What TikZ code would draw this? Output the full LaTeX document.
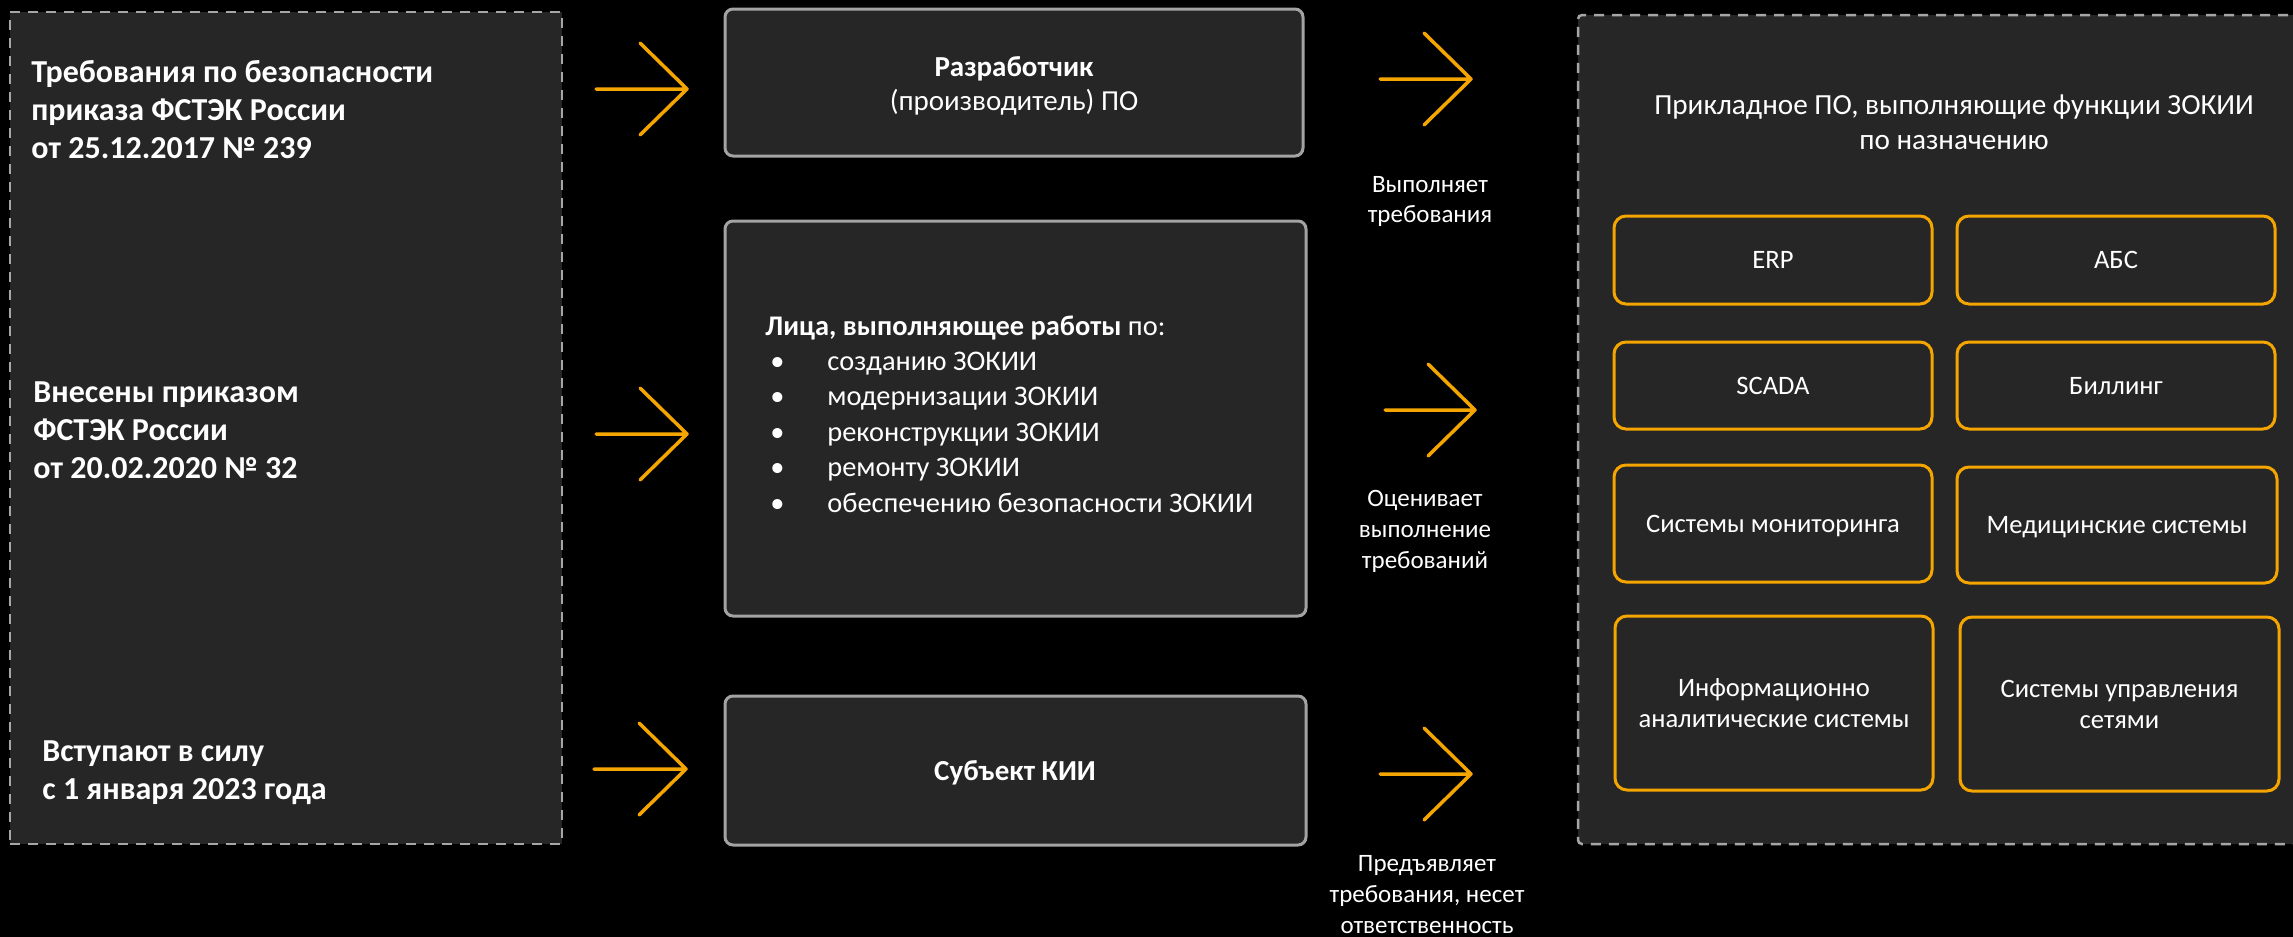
\documentclass[tikz,border=0pt]{standalone}
\usepackage{fontspec}
\setmainfont{Carlito}
\definecolor{panelfill}{HTML}{262626}
\definecolor{dashgray}{HTML}{A6A6A6}
\definecolor{cardgray}{HTML}{A3A3A3}
\definecolor{amber}{HTML}{F5A500}
\begin{document}
\begin{tikzpicture}[x=0.5pt,y=-0.5pt,
  panel/.style={draw=dashgray, line width=1.25pt, dash pattern=on 5pt off 4pt, fill=panelfill, inner sep=0pt},
  card/.style={draw=cardgray, line width=1.5pt, rounded corners=4pt, fill=panelfill, inner sep=0pt, minimum width=290.5pt},
  tile/.style={draw=amber, line width=1.5pt, rounded corners=6pt, fill=panelfill, inner sep=0pt,
    minimum width=159pt, text=white, align=center, text depth=0pt,
    font=\fontsize{13.3}{15.5}\selectfont},
  chev/.style={draw=amber, line width=1.75pt, line cap=round, line join=round},
  lawtxt/.style={text=white, inner sep=0pt, anchor=base west, font=\bfseries\fontsize{16}{19}\selectfont},
  cardtxt/.style={text=white, inner sep=0pt, anchor=base, font=\fontsize{14.5}{17}\selectfont},
  listtxt/.style={text=white, inner sep=0pt, anchor=base west, font=\fontsize{14.2}{17}\selectfont},
  titletxt/.style={text=white, inner sep=0pt, anchor=base, font=\fontsize{14.6}{17}\selectfont},
  notetxt/.style={text=white, inner sep=0pt, anchor=base, font=\fontsize{12.5}{15}\selectfont}]

\useasboundingbox (0,0) rectangle (2293,937);
\clip (0,0) rectangle (2293,937);
\fill[black] (0,0) rectangle (2293,937);

% left column: the legal basis
\node[panel, minimum width=276pt, minimum height=416pt] (lawpanel) at (286,428) {};
\node[lawtxt] (law1a) at (31,82)  {Требования по безопасности};
\node[lawtxt] (law1b) at (31,120) {приказа ФСТЭК России};
\node[lawtxt] (law1c) at (31,158) {от 25.12.2017 № 239};
\node[lawtxt] (law2a) at (33,402) {Внесены приказом};
\node[lawtxt] (law2b) at (33,440) {ФСТЭК России};
\node[lawtxt] (law2c) at (33,478) {от 20.02.2020 № 32};
\node[lawtxt] (law3a) at (42,761) {Вступают в силу};
\node[lawtxt] (law3b) at (42,799) {с 1 января 2023 года};

% middle column: the parties
\node[card, minimum width=289pt, minimum height=73.5pt] (dev) at (1014,82.5) {};
\node[cardtxt, font=\bfseries\fontsize{14.5}{17}\selectfont] (devtitle) at (1014,76) {Разработчик};
\node[cardtxt] (devsub) at (1014,110) {(производитель) ПО};

\node[card, minimum height=197.5pt] (works) at (1015.5,418.5) {};
\node[listtxt] (workshead) at (765,335) {{\bfseries Лица, выполняющее работы} по:};
\foreach \yy/\item [count=\i] in {370/созданию ЗОКИИ, 405/модернизации ЗОКИИ,
    441/реконструкции ЗОКИИ, 476/ремонту ЗОКИИ, 512/обеспечению безопасности ЗОКИИ}{
  \node[listtxt] (bul\i) at (770,\yy) {•};
  \node[listtxt] (item\i) at (827,\yy) {\item};
}

\node[card, minimum height=74.5pt] (subject) at (1015.5,770.5) {};
\node[cardtxt, font=\bfseries\fontsize{14.5}{17}\selectfont] (subjecttitle) at (1015,780) {Субъект КИИ};

% arrows
\coordinate (in1s) at (596,89);   \coordinate (in1t) at (687,89);
\coordinate (in2s) at (596,434);  \coordinate (in2t) at (687,434);
\coordinate (in3s) at (594,769);  \coordinate (in3t) at (686,769);
\coordinate (out1s) at (1380,79); \coordinate (out1t) at (1471,79);
\coordinate (out2s) at (1385,410);\coordinate (out2t) at (1475,410);
\coordinate (out3s) at (1380,774);\coordinate (out3t) at (1471,774);
\foreach \nm in {in1,in2,in3,out1,out2,out3}{
  \draw[chev] (\nm s) -- (\nm t) ++(-47,-46) -- (\nm t) -- ++(-47,46);
}

% arrow captions
\node[notetxt] (note1a) at (1430,192) {Выполняет};
\node[notetxt] (note1b) at (1430,222) {требования};
\node[notetxt] (note2a) at (1425,506) {Оценивает};
\node[notetxt] (note2b) at (1425,537) {выполнение};
\node[notetxt] (note2c) at (1425,568) {требований};
\node[notetxt] (note3a) at (1427,871) {Предъявляет};
\node[notetxt] (note3b) at (1427,902) {требования, несет};
\node[notetxt] (note3c) at (1427,933) {ответственность};

% right column: application software
\node[panel, rounded corners=2pt, minimum width=366pt, minimum height=414.5pt] (software) at (1944,429.5) {};
\node[titletxt] (swtitle1) at (1954,114) {Прикладное ПО, выполняющие функции ЗОКИИ};
\node[titletxt] (swtitle2) at (1954,149) {по назначению};

\node[tile, minimum height=44pt] (erp) at (1773,260) {ERP};
\node[tile, minimum height=44pt] (abs) at (2116,260) {АБС};
\node[tile, minimum height=43.5pt] (scada) at (1773,385.5) {SCADA};
\node[tile, minimum height=43.5pt] (billing) at (2116,385.5) {Биллинг};
\node[tile, minimum height=58.5pt] (monitor) at (1773,523.5) {Системы мониторинга};
\node[tile, minimum width=160pt, minimum height=58pt] (medical) at (2117,525) {Медицинские системы};
\node[tile, minimum height=87pt] (analytics) at (1774,703) {Информационно\\аналитические системы};
\node[tile, minimum width=159.5pt, minimum height=87pt] (netmgmt) at (2119.5,704) {Системы управления\\сетями};
\end{tikzpicture}
\end{document}
